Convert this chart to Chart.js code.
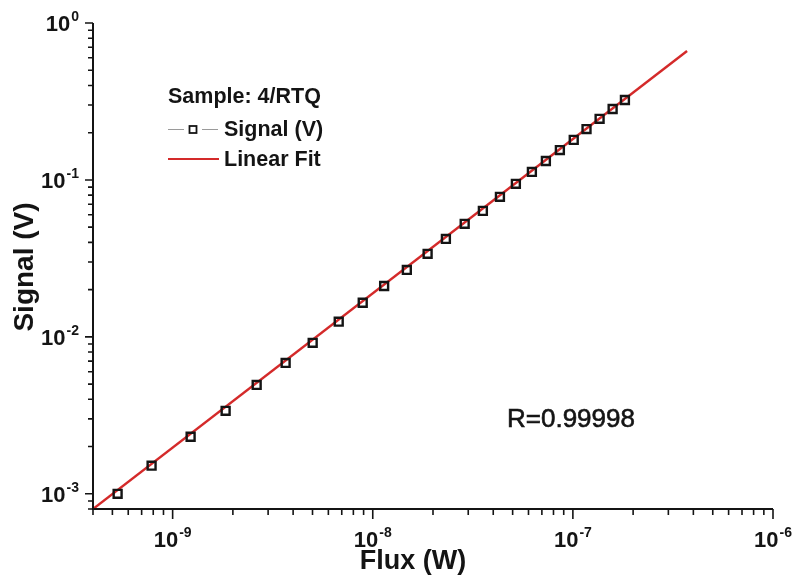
<!DOCTYPE html>
<html><head><meta charset="utf-8">
<script src="https://cdn.jsdelivr.net/npm/chart.js@4.4.1/dist/chart.umd.min.js"></script>
<style>html,body{margin:0;padding:0;background:#fff;} canvas{display:block;}</style>
</head><body>
<canvas id="c" width="794" height="580"></canvas>
<script>
// ---- data ----
const fluxW = [5.31e-10, 7.85e-10, 1.23e-9, 1.84e-9, 2.63e-9, 3.67e-9, 5.01e-9, 6.76e-9, 8.91e-9,
  1.14e-8, 1.48e-8, 1.88e-8, 2.32e-8, 2.88e-8, 3.55e-8, 4.32e-8, 5.19e-8, 6.24e-8, 7.33e-8, 8.61e-8,
  1.01e-7, 1.17e-7, 1.36e-7, 1.58e-7, 1.82e-7];
const signalV = [1.0e-3, 1.51e-3, 2.31e-3, 3.38e-3, 4.94e-3, 6.82e-3, 9.16e-3, 1.25e-2, 1.65e-2,
  2.11e-2, 2.67e-2, 3.38e-2, 4.21e-2, 5.25e-2, 6.35e-2, 7.8e-2, 9.44e-2, 0.1125, 0.132, 0.155,
  0.18, 0.211, 0.245, 0.283, 0.323];
const fitFluxW = [4.0e-10, 3.72e-7];
const fitSignalV = [8.0e-4, 0.663];
const xTickValues = [1e-9, 1e-8, 1e-7, 1e-6];
const xTickLabels = ['10^-9', '10^-8', '10^-7', '10^-6'];
const yTickValues = [1e-3, 1e-2, 1e-1, 1];
const yTickLabels = ['10^-3', '10^-2', '10^-1', '10^0'];
const seriesNames = ['Signal (V)', 'Linear Fit'];
const legendTitle = 'Sample: 4/RTQ';
const xTitle = 'Flux (W)';
const yTitle = 'Signal (V)';
const rText = 'R=0.99998';

const FONT = '"Liberation Sans", Arial, Helvetica, sans-serif';
const INK = '#141414';
const RED = '#d42a2a';

function drawPow(ctx, label, x, y, align) {
  const parts = label.split('^');
  ctx.font = 'bold 22px ' + FONT; const wb = ctx.measureText(parts[0]).width;
  ctx.font = 'bold 14px ' + FONT; const we = ctx.measureText(parts[1]).width;
  const w = wb + we + 1;
  const x0 = align === 'center' ? x - w / 2 : (align === 'right' ? x - w : x);
  ctx.textAlign = 'left'; ctx.textBaseline = 'alphabetic';
  ctx.font = 'bold 22px ' + FONT; ctx.fillText(parts[0], x0, y);
  ctx.font = 'bold 14px ' + FONT; ctx.fillText(parts[1], x0 + wb + 1, y - 10);
}

const decor = {
  id: 'decor',
  afterDraw(chart) {
    const ctx = chart.ctx, xs = chart.scales.x, ys = chart.scales.y, a = chart.chartArea;
    ctx.save();
    ctx.strokeStyle = INK; ctx.fillStyle = INK;
    // axis lines
    ctx.lineWidth = 2;
    ctx.beginPath();
    ctx.moveTo(a.left, a.top); ctx.lineTo(a.left, a.bottom); ctx.lineTo(a.right, a.bottom);
    ctx.stroke();
    // ticks
    ctx.lineWidth = 1.6;
    const minorOf = (scale) => {
      const out = [];
      const lo = Math.floor(Math.log10(scale.min)), hi = Math.ceil(Math.log10(scale.max));
      for (let d = lo; d <= hi; d++) for (let m = 1; m <= 9; m++) {
        const v = m * Math.pow(10, d);
        if (v >= scale.min * 0.999 && v <= scale.max * 1.001) out.push({ v, major: m === 1 });
      }
      return out;
    };
    ctx.beginPath();
    minorOf(xs).forEach(t => {
      const px = xs.getPixelForValue(t.v);
      ctx.moveTo(px, a.bottom); ctx.lineTo(px, a.bottom + (t.major ? 10 : 6));
    });
    minorOf(ys).forEach(t => {
      const py = ys.getPixelForValue(t.v);
      ctx.moveTo(a.left, py); ctx.lineTo(a.left - (t.major ? 8 : 5), py);
    });
    ctx.stroke();
    // tick labels
    xTickValues.forEach((v, i) => drawPow(ctx, xTickLabels[i], xs.getPixelForValue(v), a.bottom + 38, 'center'));
    yTickValues.forEach((v, i) => drawPow(ctx, yTickLabels[i], a.left - 14, ys.getPixelForValue(v) + 8, 'right'));
    // axis titles
    ctx.textAlign = 'center'; ctx.textBaseline = 'alphabetic';
    ctx.font = 'bold 27px ' + FONT;
    ctx.fillText(xTitle, 413, 569);
    ctx.save();
    ctx.translate(33, 267); ctx.rotate(-Math.PI / 2);
    ctx.font = 'bold 28px ' + FONT;
    ctx.fillText(yTitle, 0, 0);
    ctx.restore();
    // legend
    ctx.textAlign = 'left';
    ctx.font = 'bold 21.5px ' + FONT;
    ctx.fillText(legendTitle, 168, 103);
    ctx.fillText(seriesNames[0], 224, 136);
    ctx.fillText(seriesNames[1], 224, 166);
    ctx.strokeStyle = '#9a9a9a'; ctx.lineWidth = 1;
    ctx.beginPath(); ctx.moveTo(168, 129.5); ctx.lineTo(184, 129.5); ctx.moveTo(202, 129.5); ctx.lineTo(218, 129.5); ctx.stroke();
    ctx.strokeStyle = INK; ctx.lineWidth = 1.8;
    ctx.strokeRect(189.5, 126, 7, 7);
    ctx.strokeStyle = RED; ctx.lineWidth = 2.2;
    ctx.beginPath(); ctx.moveTo(168, 159); ctx.lineTo(219, 159); ctx.stroke();
    // R value
    ctx.fillStyle = INK; ctx.strokeStyle = INK; ctx.lineWidth = 0.6;
    ctx.font = '26px ' + FONT;
    ctx.fillText(rText, 507, 427);
    ctx.strokeText(rText, 507, 427);
    ctx.restore();
  }
};

new Chart(document.getElementById('c'), {
  type: 'scatter',
  data: {
    datasets: [
      {
        label: seriesNames[0],
        data: fluxW.map((x, i) => ({ x, y: signalV[i] })),
        showLine: false,
        pointStyle: 'rect',
        pointRadius: 5.6,
        pointBorderWidth: 2.4,
        pointBorderColor: INK,
        pointBackgroundColor: 'rgba(0,0,0,0)',
        order: 1
      },
      {
        label: seriesNames[1],
        data: fitFluxW.map((x, i) => ({ x, y: fitSignalV[i] })),
        showLine: true,
        borderColor: RED,
        borderWidth: 2.4,
        pointRadius: 0,
        order: 2
      }
    ]
  },
  options: {
    responsive: false,
    animation: false,
    layout: { padding: { left: 93, right: 21, top: 23, bottom: 71 } },
    plugins: { legend: { display: false }, tooltip: { enabled: false } },
    scales: {
      x: { type: 'logarithmic', min: 4e-10, max: 1e-6, display: false },
      y: { type: 'logarithmic', min: 8e-4, max: 1, display: false }
    }
  },
  plugins: [decor]
});
</script>
</body></html>
